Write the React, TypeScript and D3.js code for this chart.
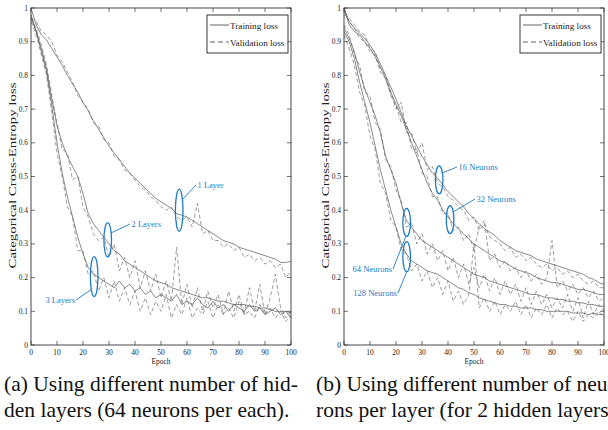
import * as d3 from 'd3';

// --- data (every 2nd epoch) ---
const epochs = [0, 2, 4, 6, 8, 10, 12, 14, 16, 18, 20, 22, 24, 26, 28, 30, 32, 34, 36, 38, 40, 42, 44, 46, 48, 50, 52, 54, 56, 58, 60, 62, 64, 66, 68, 70, 72, 74, 76, 78, 80, 82, 84, 86, 88, 90, 92, 94, 96, 98, 100];
const xTicks = [0, 10, 20, 30, 40, 50, 60, 70, 80, 90, 100];
const yTicks = [0, 0.1, 0.2, 0.3, 0.4, 0.5, 0.6, 0.7, 0.8, 0.9, 1];

// (a) hidden layers
const oneLayerTrain = [1.0, 0.95, 0.92, 0.905, 0.88, 0.855, 0.83, 0.8, 0.775, 0.75, 0.72, 0.695, 0.665, 0.64, 0.615, 0.59, 0.57, 0.55, 0.53, 0.51, 0.495, 0.48, 0.465, 0.45, 0.435, 0.425, 0.415, 0.405, 0.39, 0.385, 0.38, 0.37, 0.36, 0.35, 0.34, 0.33, 0.32, 0.31, 0.305, 0.3, 0.29, 0.285, 0.28, 0.275, 0.27, 0.265, 0.26, 0.255, 0.245, 0.245, 0.248];
const oneLayerVal = [0.97, 0.96, 0.93, 0.92, 0.9, 0.86, 0.84, 0.81, 0.78, 0.74, 0.72, 0.7, 0.66, 0.65, 0.61, 0.6, 0.56, 0.55, 0.52, 0.51, 0.49, 0.47, 0.46, 0.44, 0.43, 0.41, 0.4, 0.41, 0.38, 0.37, 0.38, 0.35, 0.42, 0.33, 0.34, 0.31, 0.31, 0.29, 0.3, 0.28, 0.29, 0.26, 0.27, 0.25, 0.26, 0.24, 0.25, 0.23, 0.24, 0.2, 0.22];
const twoLayerTrain = [0.98, 0.93, 0.88, 0.82, 0.73, 0.65, 0.6, 0.56, 0.53, 0.5, 0.45, 0.39, 0.36, 0.34, 0.32, 0.3, 0.28, 0.27, 0.25, 0.24, 0.23, 0.22, 0.21, 0.2, 0.19, 0.185, 0.18, 0.17, 0.165, 0.16, 0.155, 0.15, 0.145, 0.14, 0.14, 0.135, 0.13, 0.13, 0.125, 0.12, 0.12, 0.12, 0.115, 0.115, 0.11, 0.11, 0.105, 0.1, 0.1, 0.1, 0.095];
const twoLayerVal = [0.97, 0.94, 0.89, 0.83, 0.74, 0.66, 0.58, 0.57, 0.49, 0.5, 0.41, 0.38, 0.33, 0.31, 0.32, 0.26, 0.3, 0.22, 0.26, 0.2, 0.25, 0.17, 0.22, 0.16, 0.21, 0.14, 0.19, 0.13, 0.29, 0.12, 0.18, 0.11, 0.17, 0.1, 0.16, 0.11, 0.15, 0.09, 0.16, 0.1, 0.15, 0.09, 0.17, 0.1, 0.18, 0.09, 0.14, 0.21, 0.11, 0.08, 0.1];
const threeLayerTrain = [0.97, 0.93, 0.87, 0.81, 0.71, 0.6, 0.51, 0.44, 0.38, 0.32, 0.27, 0.23, 0.21, 0.2, 0.19, 0.18, 0.17, 0.19, 0.17, 0.18, 0.16, 0.17, 0.15, 0.16, 0.14, 0.15, 0.14, 0.13, 0.15, 0.12, 0.13, 0.12, 0.14, 0.12, 0.11, 0.13, 0.11, 0.12, 0.1, 0.12, 0.11, 0.1, 0.12, 0.1, 0.11, 0.09, 0.1, 0.11, 0.09, 0.1, 0.08];
const threeLayerVal = [0.96, 0.92, 0.86, 0.8, 0.69, 0.57, 0.5, 0.41, 0.38, 0.28, 0.28, 0.21, 0.22, 0.16, 0.2, 0.14, 0.19, 0.13, 0.17, 0.12, 0.16, 0.1, 0.14, 0.09, 0.13, 0.1, 0.15, 0.08, 0.12, 0.09, 0.14, 0.08, 0.11, 0.09, 0.13, 0.08, 0.12, 0.09, 0.11, 0.08, 0.13, 0.09, 0.1, 0.08, 0.12, 0.09, 0.11, 0.08, 0.1, 0.07, 0.09];

// (b) neurons per layer
const n16Train = [1.0, 0.96, 0.94, 0.925, 0.91, 0.89, 0.865, 0.835, 0.8, 0.765, 0.73, 0.69, 0.65, 0.62, 0.59, 0.56, 0.535, 0.51, 0.495, 0.475, 0.455, 0.44, 0.425, 0.41, 0.39, 0.375, 0.36, 0.345, 0.335, 0.325, 0.31, 0.3, 0.29, 0.28, 0.275, 0.27, 0.265, 0.255, 0.25, 0.245, 0.24, 0.235, 0.23, 0.225, 0.22, 0.215, 0.21, 0.2, 0.195, 0.185, 0.18];
const n16Val = [0.98, 0.97, 0.95, 0.93, 0.92, 0.88, 0.87, 0.82, 0.8, 0.75, 0.7, 0.72, 0.63, 0.63, 0.57, 0.6, 0.52, 0.53, 0.48, 0.47, 0.44, 0.43, 0.41, 0.4, 0.37, 0.38, 0.34, 0.36, 0.32, 0.31, 0.3, 0.28, 0.29, 0.26, 0.27, 0.25, 0.26, 0.24, 0.23, 0.24, 0.22, 0.23, 0.21, 0.22, 0.2, 0.21, 0.19, 0.18, 0.19, 0.17, 0.17];
const n32Train = [1.0, 0.95, 0.93, 0.92, 0.9, 0.88, 0.855, 0.825, 0.79, 0.75, 0.715, 0.68, 0.64, 0.6, 0.56, 0.52, 0.48, 0.45, 0.43, 0.4, 0.38, 0.36, 0.345, 0.33, 0.315, 0.3, 0.29, 0.28, 0.27, 0.26, 0.25, 0.245, 0.235, 0.225, 0.22, 0.215, 0.21, 0.2, 0.195, 0.19, 0.185, 0.185, 0.18, 0.175, 0.17, 0.165, 0.165, 0.16, 0.155, 0.15, 0.15];
const n32Val = [0.99, 0.96, 0.94, 0.91, 0.9, 0.87, 0.86, 0.81, 0.79, 0.74, 0.71, 0.66, 0.66, 0.58, 0.58, 0.51, 0.5, 0.44, 0.44, 0.39, 0.39, 0.34, 0.35, 0.31, 0.33, 0.28, 0.35, 0.37, 0.25, 0.27, 0.23, 0.25, 0.22, 0.23, 0.2, 0.22, 0.19, 0.21, 0.18, 0.2, 0.31, 0.17, 0.19, 0.16, 0.18, 0.15, 0.17, 0.14, 0.16, 0.13, 0.14];
const n64Train = [0.94, 0.91, 0.87, 0.81, 0.76, 0.72, 0.68, 0.63, 0.56, 0.52, 0.48, 0.42, 0.37, 0.35, 0.33, 0.31, 0.3, 0.29, 0.28, 0.27, 0.26, 0.25, 0.24, 0.23, 0.22, 0.21, 0.205, 0.2, 0.19, 0.185, 0.18, 0.175, 0.17, 0.165, 0.16, 0.155, 0.15, 0.15, 0.145, 0.14, 0.14, 0.135, 0.135, 0.13, 0.13, 0.125, 0.125, 0.12, 0.12, 0.115, 0.115];
const n64Val = [0.95, 0.92, 0.86, 0.83, 0.75, 0.74, 0.66, 0.64, 0.55, 0.53, 0.46, 0.43, 0.35, 0.36, 0.3, 0.33, 0.27, 0.3, 0.25, 0.28, 0.22, 0.26, 0.2, 0.24, 0.18, 0.23, 0.17, 0.21, 0.16, 0.2, 0.15, 0.19, 0.15, 0.18, 0.13, 0.17, 0.12, 0.16, 0.12, 0.15, 0.11, 0.14, 0.11, 0.15, 0.1, 0.14, 0.08, 0.13, 0.09, 0.12, 0.1];
const n128Train = [0.93, 0.9, 0.85, 0.78, 0.72, 0.66, 0.59, 0.52, 0.46, 0.4, 0.35, 0.3, 0.27, 0.25, 0.24, 0.23, 0.22, 0.215, 0.21, 0.2, 0.19, 0.18, 0.17, 0.165, 0.155, 0.15, 0.14, 0.135, 0.13, 0.125, 0.12, 0.12, 0.115, 0.115, 0.11, 0.11, 0.11, 0.105, 0.105, 0.1, 0.1, 0.1, 0.1, 0.1, 0.095, 0.095, 0.095, 0.09, 0.095, 0.09, 0.09];
const n128Val = [0.92, 0.88, 0.83, 0.75, 0.71, 0.62, 0.58, 0.48, 0.45, 0.37, 0.35, 0.28, 0.27, 0.22, 0.24, 0.19, 0.22, 0.17, 0.2, 0.15, 0.19, 0.13, 0.16, 0.12, 0.15, 0.3, 0.11, 0.14, 0.1, 0.13, 0.09, 0.12, 0.1, 0.13, 0.09, 0.12, 0.08, 0.11, 0.09, 0.12, 0.08, 0.11, 0.09, 0.1, 0.07, 0.1, 0.07, 0.09, 0.08, 0.1, 0.08];

const BLUE = '#1f7bc6';
const FONT = '"Liberation Serif", "Times New Roman", serif';
const serif = { fontFamily: FONT };

type Note = { label: string; ex: number; ey: number; ry: number; lx: number; ly: number; tx: number; ty: number; anchor?: string };

const Panel = ({ x0, x1, train, val, notes }: { x0: number; x1: number; train: number[][]; val: number[][]; notes: Note[] }) => {
  const top = 8;
  const bottom = 345;
  const x = d3.scaleLinear().domain([0, 100]).range([x0, x1]);
  const y = d3.scaleLinear().domain([0, 1]).range([bottom, top]);
  const line = d3.line<number>().x((_, i) => x(epochs[i])).y((d) => y(d));
  const tick = 4;
  const legendX = x1 - 84;

  return (
    <g>
      {train.map((s, i) => (
        <path key={'t' + i} d={line(s) || ''} fill="none" stroke="#3a3a3a" strokeWidth={0.6} />
      ))}
      {val.map((s, i) => (
        <path key={'v' + i} d={line(s) || ''} fill="none" stroke="#5a5a5a" strokeWidth={0.6} strokeDasharray="4,2.5" />
      ))}

      {/* frame with inward ticks */}
      <rect x={x0} y={top} width={x1 - x0} height={bottom - top} fill="none" stroke="#333" strokeWidth={0.9} />
      {xTicks.map((t) => (
        <g key={'x' + t}>
          <line x1={x(t)} x2={x(t)} y1={bottom} y2={bottom - tick} stroke="#333" strokeWidth={0.7} />
          <line x1={x(t)} x2={x(t)} y1={top} y2={top + tick} stroke="#333" strokeWidth={0.7} />
          <text x={x(t)} y={bottom + 10} fontSize={7.5} textAnchor="middle" style={serif} fill="#222">{t}</text>
        </g>
      ))}
      {yTicks.map((t) => (
        <g key={'y' + t}>
          <line x1={x0} x2={x0 + tick} y1={y(t)} y2={y(t)} stroke="#333" strokeWidth={0.7} />
          <line x1={x1} x2={x1 - tick} y1={y(t)} y2={y(t)} stroke="#333" strokeWidth={0.7} />
          <text x={x0 - 3} y={y(t) + 2.5} fontSize={7.5} textAnchor="end" style={serif} fill="#222">{String(t)}</text>
        </g>
      ))}
      <text x={(x0 + x1) / 2} y={364} fontSize={7.5} textAnchor="middle" style={serif} fill="#222">Epoch</text>
      <text
        transform={`translate(${x0 - 15},${(top + bottom) / 2 - 1}) rotate(-90)`}
        fontSize={10.5}
        textAnchor="middle"
        style={serif}
        fill="#222"
        textLength={186}
        lengthAdjust="spacingAndGlyphs"
      >
        Categorical Cross-Entropy loss
      </text>

      {/* legend */}
      <rect x={legendX} y={15} width={81} height={38} fill="#fff" stroke="#222" strokeWidth={0.9} />
      <line x1={legendX + 3} x2={legendX + 22} y1={25} y2={25} stroke="#222" strokeWidth={0.7} />
      <line x1={legendX + 3} x2={legendX + 22} y1={42} y2={42} stroke="#222" strokeWidth={0.7} strokeDasharray="5,3" />
      <text x={legendX + 23} y={28.5} fontSize={9.2} style={serif} fill="#222">Training loss</text>
      <text x={legendX + 23} y={45.5} fontSize={9.2} style={serif} fill="#222">Validation loss</text>

      {/* annotations */}
      {notes.map((n) => (
        <g key={n.label}>
          <ellipse cx={x(n.ex)} cy={y(n.ey)} rx={3.8} ry={n.ry} fill="none" stroke={BLUE} strokeWidth={1.3} />
          <line x1={n.lx} y1={n.ly} x2={n.tx} y2={n.ty} stroke={BLUE} strokeWidth={0.9} />
          <text x={n.tx + (n.anchor === 'end' ? -1 : 1.5)} y={n.ty + 3} fontSize={8.5} style={serif} fill={BLUE} textAnchor={n.anchor || 'start'}>{n.label}</text>
        </g>
      ))}
    </g>
  );
};

const notesA: Note[] = [
  { label: '1 Layer', ex: 57, ey: 0.4, ry: 21, lx: 183, ly: 199, tx: 196, ty: 185 },
  { label: '2 Layers', ex: 29.5, ey: 0.312, ry: 17, lx: 111, ly: 233, tx: 130, ty: 224 },
  { label: '3 Layers', ex: 24.3, ey: 0.203, ry: 20, lx: 92, ly: 289, tx: 76, ty: 300, anchor: 'end' },
];
const notesB: Note[] = [
  { label: '16 Neurons', ex: 36.6, ey: 0.49, ry: 14, lx: 442, ly: 173, tx: 457, ty: 167 },
  { label: '32 Neurons', ex: 40.8, ey: 0.372, ry: 14, lx: 453, ly: 212, tx: 475, ty: 199 },
  { label: '64 Neurons', ex: 24.1, ey: 0.364, ry: 14, lx: 406, ly: 236, tx: 393, ty: 269, anchor: 'end' },
  { label: '128 Neurons', ex: 24.1, ey: 0.262, ry: 15, lx: 407, ly: 271, tx: 398, ty: 293, anchor: 'end' },
];

export default function App() {
  return (
    <svg width={608} height={430} style={{ position: 'absolute', left: 0, top: 0, background: '#fff' }}>
      <Panel x0={31} x1={291} train={[oneLayerTrain, twoLayerTrain, threeLayerTrain]} val={[oneLayerVal, twoLayerVal, threeLayerVal]} notes={notesA} />
      <Panel x0={344} x1={604} train={[n16Train, n32Train, n64Train, n128Train]} val={[n16Val, n32Val, n64Val, n128Val]} notes={notesB} />
      <g fontSize={21.5} fill="#111" style={serif}>
        <text x={4} y={391}>(a) Using different number of hid-</text>
        <text x={4} y={417}>den layers (64 neurons per each).</text>
        <text x={316} y={391}>(b) Using different number of neu</text>
        <text x={316} y={417}>rons per layer (for 2 hidden layers).</text>
      </g>
    </svg>
  );
}
